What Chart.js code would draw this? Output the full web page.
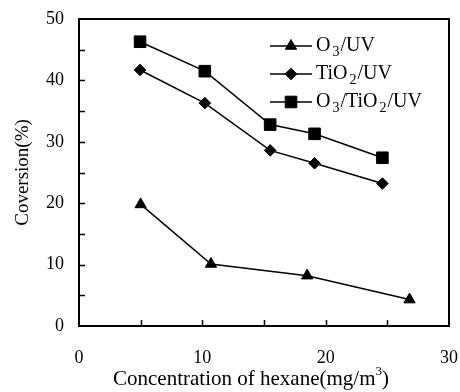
<!DOCTYPE html>
<html>
<head>
<meta charset="utf-8">
<script src="https://cdn.jsdelivr.net/npm/chart.js@4/dist/chart.umd.min.js"></script>
<style>
  html, body { margin: 0; padding: 0; background: #fff; }
  canvas { display: block; }
</style>
</head>
<body>
<canvas id="c" width="460" height="392"></canvas>
<script>
// Hexane concentration (mg/m3) and conversion (%) for each treatment
const hexaneO3 = [5.0, 10.7, 18.5, 26.8];
const conversionO3 = [19.8, 10.1, 8.2, 4.3];

const hexaneTiO2 = [4.95, 10.2, 15.5, 19.1, 24.6];
const conversionTiO2 = [41.7, 36.3, 28.6, 26.5, 23.2];

const hexaneCombined = [4.95, 10.2, 15.5, 19.1, 24.6];
const conversionCombined = [46.3, 41.5, 32.8, 31.3, 27.4];

const seriesLabels = ['O3/UV', 'TiO2/UV', 'O3/TiO2/UV'];
const xTickLabels = [0, 10, 20, 30];
const yTickLabels = [0, 10, 20, 30, 40, 50];

const FONT = '"Liberation Serif", "Times New Roman", serif';
const INK = '#000';

function toPoints(xs, ys) {
  return xs.map((x, i) => ({ x: x, y: ys[i] }));
}

function seriesStyle(pointStyle, radius) {
  return {
    borderColor: INK,
    backgroundColor: INK,
    borderWidth: 1.5,
    pointStyle: pointStyle,
    pointRadius: radius,
    pointBackgroundColor: INK,
    pointBorderColor: INK,
    pointBorderWidth: 1,
    tension: 0,
    fill: false
  };
}

// Split "TiO2/UV" into runs, with digits after a letter set as subscripts
function chemRuns(text) {
  const runs = [];
  const re = /([A-Za-z])(\d+)/g;
  let last = 0, m;
  while ((m = re.exec(text)) !== null) {
    runs.push({ t: text.slice(last, m.index + 1), sub: false });
    runs.push({ t: m[2], sub: true });
    last = m.index + m[0].length;
  }
  if (last < text.length) runs.push({ t: text.slice(last), sub: false });
  return runs;
}

function drawMarker(ctx, style, radius, x, y) {
  ctx.save();
  ctx.fillStyle = INK;
  ctx.strokeStyle = INK;
  ctx.lineWidth = 1;
  ctx.beginPath();
  if (style === 'triangle') {
    for (let k = 0; k < 3; k++) {
      const a = k * 2 * Math.PI / 3;
      const px = x + Math.sin(a) * radius, py = y - Math.cos(a) * radius;
      if (k === 0) ctx.moveTo(px, py); else ctx.lineTo(px, py);
    }
    ctx.closePath();
  } else if (style === 'rectRot') {
    ctx.moveTo(x, y - radius);
    ctx.lineTo(x + radius, y);
    ctx.lineTo(x, y + radius);
    ctx.lineTo(x - radius, y);
    ctx.closePath();
  } else {
    const s = Math.SQRT1_2 * radius;
    ctx.rect(x - s, y - s, 2 * s, 2 * s);
  }
  ctx.fill();
  ctx.stroke();
  ctx.restore();
}

const framePlugin = {
  id: 'frame',
  afterDraw(chart) {
    const { ctx, chartArea: a, scales } = chart;
    const xs = scales.x, ys = scales.y;
    ctx.save();

    // plot box
    ctx.strokeStyle = INK;
    ctx.lineWidth = 2;
    ctx.strokeRect(a.left, a.top, a.right - a.left, a.bottom - a.top);

    // inward tick marks every 5 units
    ctx.lineWidth = 1.5;
    ctx.beginPath();
    for (let v = 5; v < 50; v += 5) {
      const py = Math.round(ys.getPixelForValue(v)) + 0.5;
      ctx.moveTo(a.left, py);
      ctx.lineTo(a.left + 6, py);
    }
    for (let v = 5; v < 30; v += 5) {
      const px = Math.round(xs.getPixelForValue(v)) + 0.5;
      ctx.moveTo(px, a.bottom);
      ctx.lineTo(px, a.bottom - 6);
    }
    ctx.stroke();

    // axis titles
    ctx.fillStyle = INK;
    ctx.font = '19px ' + FONT;
    ctx.textBaseline = 'alphabetic';
    ctx.save();
    ctx.translate(28, (a.top + a.bottom) / 2);
    ctx.rotate(-Math.PI / 2);
    ctx.textAlign = 'center';
    ctx.fillText('Coversion(%)', 0, 0);
    ctx.restore();

    const main = 'Concentration of hexane(mg/m';
    ctx.font = '21px ' + FONT;
    const wMain = ctx.measureText(main).width;
    ctx.font = '13px ' + FONT;
    const wSup = ctx.measureText('3').width;
    ctx.font = '21px ' + FONT;
    const wClose = ctx.measureText(')').width;
    const total = wMain + wSup + wClose;
    let tx = 251 - total / 2;
    const ty = 385;
    ctx.textAlign = 'left';
    ctx.fillText(main, tx, ty);
    tx += wMain;
    ctx.font = '13px ' + FONT;
    ctx.fillText('3', tx, ty - 10);
    tx += wSup;
    ctx.font = '21px ' + FONT;
    ctx.fillText(')', tx, ty);

    // legend with line + marker samples
    const rows = [46, 74, 102];
    const lx0 = 270, lx1 = 312, tx0 = 316;
    chart.data.datasets.forEach((ds, i) => {
      const y = rows[i];
      ctx.strokeStyle = INK;
      ctx.lineWidth = 1.5;
      ctx.beginPath();
      ctx.moveTo(lx0, y);
      ctx.lineTo(lx1, y);
      ctx.stroke();
      drawMarker(ctx, ds.pointStyle, ds.pointRadius, (lx0 + lx1) / 2, y);
      let x = tx0;
      ctx.textAlign = 'left';
      ctx.textBaseline = 'middle';
      chemRuns(ds.label).forEach(r => {
        if (r.sub) {
          ctx.font = '14px ' + FONT;
          x += 2;
          ctx.fillText(r.t, x, y + 6);
          x += ctx.measureText(r.t).width + 1;
        } else {
          ctx.font = '20px ' + FONT;
          ctx.fillText(r.t, x, y);
          x += ctx.measureText(r.t).width;
        }
      });
    });
    ctx.restore();
  }
};

new Chart(document.getElementById('c'), {
  type: 'line',
  data: {
    datasets: [
      Object.assign({ label: seriesLabels[0], data: toPoints(hexaneO3, conversionO3) }, seriesStyle('triangle', 6.5)),
      Object.assign({ label: seriesLabels[1], data: toPoints(hexaneTiO2, conversionTiO2) }, seriesStyle('rectRot', 5.8)),
      Object.assign({ label: seriesLabels[2], data: toPoints(hexaneCombined, conversionCombined) }, seriesStyle('rect', 8.2))
    ]
  },
  options: {
    responsive: false,
    animation: false,
    layout: { padding: { top: 19, right: 11, left: 0, bottom: 0 } },
    scales: {
      x: {
        type: 'linear',
        min: 0,
        max: 30,
        afterBuildTicks: s => { s.ticks = xTickLabels.map(v => ({ value: v })); },
        afterFit: s => { s.height = 66; s.paddingLeft = 0; s.paddingRight = 0; },
        grid: { display: false, drawTicks: false },
        border: { display: false },
        ticks: {
          color: INK,
          font: { family: FONT, size: 18 },
          padding: 21,
          maxRotation: 0,
          autoSkip: false
        }
      },
      y: {
        type: 'linear',
        min: 0,
        max: 50,
        afterBuildTicks: s => { s.ticks = yTickLabels.map(v => ({ value: v })); },
        afterFit: s => { s.width = 79; s.paddingTop = 0; s.paddingBottom = 0; },
        grid: { display: false, drawTicks: false },
        border: { display: false },
        ticks: {
          color: INK,
          font: { family: FONT, size: 18 },
          padding: 15
        }
      }
    },
    plugins: {
      legend: { display: false },
      tooltip: { enabled: false }
    }
  },
  plugins: [framePlugin]
});
</script>
</body>
</html>
